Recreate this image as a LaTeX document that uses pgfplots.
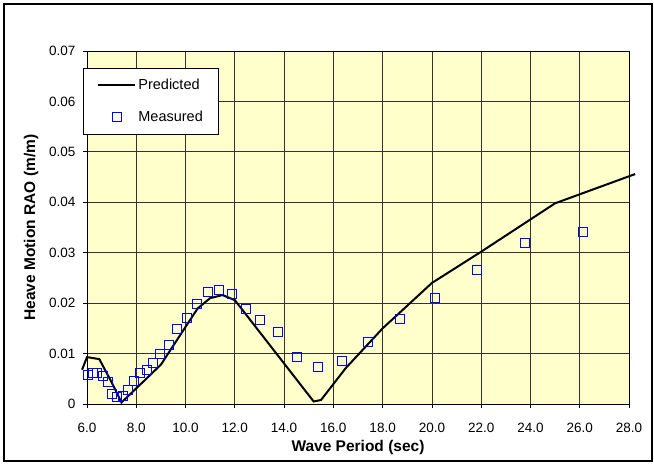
\documentclass[border=0pt]{standalone}
\usepackage{pgfplots}
\pgfplotsset{compat=1.18}
\usepackage{fontspec}
\setmainfont{Liberation Sans}
\definecolor{plotbg}{HTML}{FFFFCC}
\definecolor{markblue}{HTML}{0000FF}

\begin{document}
\begin{tikzpicture}[x=1pt,y=1pt]
\path[use as bounding box] (-87,-60) rectangle (567,404);
\begin{axis}[
  at={(0,0)}, anchor=south west,
  scale only axis, width=542pt, height=353pt,
  xmin=6, xmax=28, ymin=0, ymax=0.07,
  clip=false,
  axis background/.style={fill=plotbg},
  axis line style={black, line width=0.9pt},
  xtick={6,8,...,28},
  xticklabels={6.0,8.0,10.0,12.0,14.0,16.0,18.0,20.0,22.0,24.0,26.0,28.0},
  ytick={0,0.01,0.02,0.03,0.04,0.05,0.06,0.07},
  yticklabels={0,0.01,0.02,0.03,0.04,0.05,0.06,0.07},
  scaled y ticks=false,
  tick pos=left, tick align=outside,
  major tick length=4pt,
  every tick/.style={black, line width=0.8pt},
  grid=major,
  major grid style={black!80, line width=0.8pt},
  tick label style={font=\fontsize{13.5}{15}\selectfont},
  xticklabel style={yshift=-12pt},
  yticklabel style={xshift=-4pt},
  xlabel={\textbf{Wave Period (sec)}},
  ylabel={\textbf{Heave Motion RAO (m/m)}},
  label style={font=\fontsize{15.5}{17}\selectfont},
  xlabel style={at={(axis description cs:0.5,-0.122)}, anchor=center},
  ylabel style={at={(axis description cs:-0.1033,0.5)}, anchor=center},
  legend style={
    at={(axis description cs:-0.0074,0.952)}, anchor=north west,
    draw=black, fill=white, line width=0.8pt,
    font=\fontsize{14.5}{16}\selectfont,
    inner xsep=14pt, inner ysep=9pt,
    row sep=16pt,
    /tikz/every even column/.append style={column sep=2pt},
  },
  legend cell align=left,
]
% Predicted heave RAO
\addplot[black, line width=2pt,
  legend image code/.code={\draw[line width=2pt] (0pt,0pt) -- (37pt,0pt);}]
  coordinates {
  (5.8,0.0068) (6.0,0.0093) (6.5,0.0089) (7.0,0.0043) (7.4,0.0003)
  (8.0,0.0031) (9.0,0.0078) (10.0,0.0153) (10.5,0.0190) (11.0,0.0210)
  (11.5,0.0216) (12.0,0.0206) (15.2,0.0005) (15.5,0.0008) (16.5,0.0071)
  (18.0,0.0150) (20.0,0.0240) (22.0,0.0302) (25.0,0.0398) (28.25,0.0456)
};
\addlegendentry{Predicted}
% Measured heave RAO
\addplot[only marks, mark=square, mark size=4.5pt,
  mark options={draw=markblue, line width=0.9pt, fill=none},
  legend image code/.code={\draw[mark=square, mark size=4.5pt, mark options={draw=markblue, line width=0.9pt}] plot coordinates {(18.5pt,0pt)};}]
  coordinates {
  (6.05,0.0058) (6.26,0.0061) (6.42,0.0062) (6.66,0.0056) (6.84,0.0044)
  (7.03,0.0020) (7.23,0.0013) (7.47,0.0015) (7.68,0.0028) (7.91,0.0046)
  (8.15,0.0061) (8.45,0.0067) (8.69,0.0081) (8.96,0.0099) (9.33,0.0118)
  (9.66,0.0149) (10.05,0.0170) (10.45,0.0198) (10.92,0.0222) (11.36,0.0226)
  (11.87,0.0218) (12.44,0.0188) (13.02,0.0167) (13.76,0.0143) (14.51,0.0094)
  (15.39,0.0073) (16.34,0.0085) (17.42,0.0124) (18.70,0.0169) (20.12,0.0211)
  (21.81,0.0266) (23.78,0.0319) (26.14,0.0341)
};
\addlegendentry{Measured}
\end{axis}
\draw[line width=1.2pt] (-83,-57) rectangle (565,400);
\end{tikzpicture}
\end{document}
